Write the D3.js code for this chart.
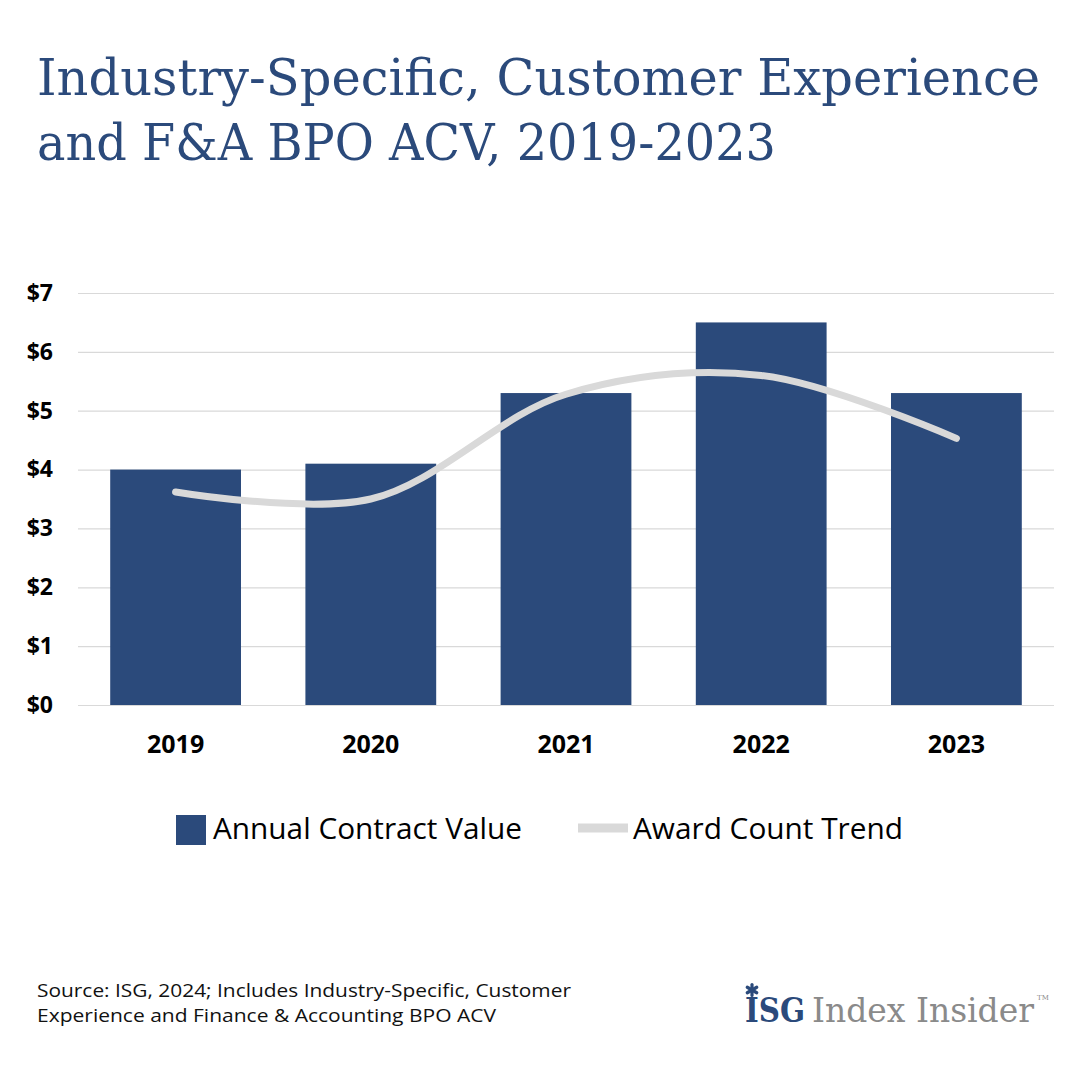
<!DOCTYPE html>
<html>
<head>
<meta charset="utf-8">
<script src="https://cdn.jsdelivr.net/npm/d3@7"></script>
<style>
  body { margin: 0; background: #fff; }
  svg { display: block; }
</style>
</head>
<body>
<script>
// chart data
var years = ["2019", "2020", "2021", "2022", "2023"];
var acv = [4.0, 4.1, 5.3, 6.5, 5.3];
var trend = [3.62, 3.5, 5.28, 5.6, 4.53];
var yTicks = [0, 1, 2, 3, 4, 5, 6, 7];

var navy = "#2b4a7b",
    grey = "#d9d9d9";

var W = 1080, H = 1080;
var margin = {top: 293, right: 26, bottom: 375, left: 78},
    width = W - margin.left - margin.right,
    height = H - margin.top - margin.bottom;

var svg = d3.select("body").append("svg")
    .attr("width", W)
    .attr("height", H);

// title
var title = svg.append("g")
    .attr("fill", navy)
    .style("font-family", "'DejaVu Serif', serif")
    .style("font-size", "51px");
title.append("text").attr("x", 37).attr("y", 95)
    .attr("textLength", 1003).attr("lengthAdjust", "spacingAndGlyphs")
    .text("Industry-Specific, Customer Experience");
title.append("text").attr("x", 37).attr("y", 160)
    .attr("textLength", 739).attr("lengthAdjust", "spacingAndGlyphs")
    .text("and F&A BPO ACV, 2019-2023");

var g = svg.append("g")
    .attr("transform", "translate(" + margin.left + "," + margin.top + ")");

// scales
var x = d3.scaleBand().domain(years).range([0, width]).paddingInner(0.33).paddingOuter(0.165);
var y = d3.scaleLinear().domain([0, 7]).range([height, 0]);

// gridlines + y labels
var yAxis = g.append("g")
    .call(d3.axisLeft(y).tickValues(yTicks).tickSize(-width).tickFormat(function(d) { return "$" + d; }));
yAxis.select(".domain").remove();
yAxis.selectAll(".tick line").attr("stroke", grey).attr("stroke-width", 1.2);
yAxis.selectAll(".tick text")
    .attr("x", -25)
    .attr("fill", "#000")
    .style("font-family", "'Open Sans', sans-serif")
    .style("font-weight", "bold")
    .style("font-size", "23px");

// bars
g.selectAll(".bar")
    .data(acv)
  .enter().append("rect")
    .attr("class", "bar")
    .attr("x", function(d, i) { return x(years[i]); })
    .attr("width", x.bandwidth())
    .attr("y", function(d) { return y(d); })
    .attr("height", function(d) { return height - y(d); })
    .attr("fill", navy);

// x labels
var xAxis = g.append("g")
    .attr("transform", "translate(0," + height + ")")
    .call(d3.axisBottom(x).tickSize(0).tickPadding(30));
xAxis.select(".domain").remove();
xAxis.selectAll(".tick text")
    .attr("fill", "#000")
    .style("font-family", "'Open Sans', sans-serif")
    .style("font-weight", "bold")
    .style("font-size", "25px");

// trend line
var line = d3.line()
    .x(function(d, i) { return x(years[i]) + x.bandwidth() / 2; })
    .y(function(d) { return y(d); })
    .curve(d3.curveCatmullRom.alpha(0.5));

g.append("path")
    .datum(trend)
    .attr("d", line)
    .attr("fill", "none")
    .attr("stroke", grey)
    .attr("stroke-width", 7)
    .attr("stroke-linecap", "round");

// legend
var legend = svg.append("g")
    .style("font-family", "'Open Sans', sans-serif")
    .style("font-size", "29px");
legend.append("rect").attr("x", 176).attr("y", 815).attr("width", 30).attr("height", 30).attr("fill", navy);
legend.append("text").attr("x", 213).attr("y", 839)
    .attr("textLength", 309).attr("lengthAdjust", "spacingAndGlyphs")
    .text("Annual Contract Value");
legend.append("line").attr("x1", 578).attr("x2", 628).attr("y1", 828).attr("y2", 828)
    .attr("stroke", grey).attr("stroke-width", 9);
legend.append("text").attr("x", 633).attr("y", 839)
    .attr("textLength", 270).attr("lengthAdjust", "spacingAndGlyphs")
    .text("Award Count Trend");

// source note
var note = svg.append("g")
    .style("font-family", "'Open Sans', sans-serif")
    .style("font-size", "18.5px")
    .attr("fill", "#111");
note.append("text").attr("x", 37).attr("y", 997)
    .attr("textLength", 534).attr("lengthAdjust", "spacingAndGlyphs")
    .text("Source: ISG, 2024; Includes Industry-Specific, Customer");
note.append("text").attr("x", 37).attr("y", 1022)
    .attr("textLength", 459).attr("lengthAdjust", "spacingAndGlyphs")
    .text("Experience and Finance & Accounting BPO ACV");

// logo
var logo = svg.append("g").style("font-family", "'DejaVu Serif', serif");
var star = logo.append("g").attr("transform", "translate(752,990)")
    .attr("stroke", navy).attr("stroke-width", 3.2).attr("stroke-linecap", "round");
[90, 30, -30].forEach(function(a) {
  var r = a * Math.PI / 180;
  star.append("line")
      .attr("x1", -5.5 * Math.cos(r)).attr("y1", -5.5 * Math.sin(r))
      .attr("x2", 5.5 * Math.cos(r)).attr("y2", 5.5 * Math.sin(r));
});
logo.append("text").attr("x", 745).attr("y", 1022)
    .attr("fill", navy).style("font-size", "33px").style("font-weight", "bold")
    .attr("textLength", 60).attr("lengthAdjust", "spacingAndGlyphs")
    .text("ISG");
logo.append("text").attr("x", 812).attr("y", 1022)
    .attr("fill", "#8a8a8a").style("font-size", "33px")
    .attr("textLength", 222).attr("lengthAdjust", "spacingAndGlyphs")
    .text("Index Insider");
logo.append("text").attr("x", 1037).attr("y", 1000)
    .attr("fill", "#8a8a8a").style("font-size", "7px").text("TM");
</script>
</body>
</html>
